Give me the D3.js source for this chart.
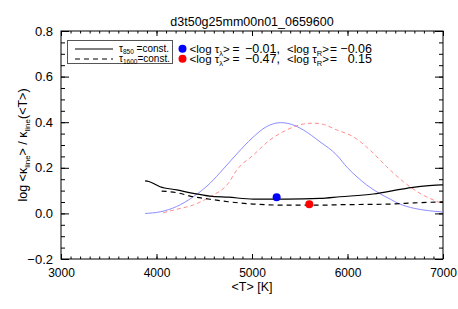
<!DOCTYPE html>
<html>
<head>
<meta charset="utf-8">
<script src="https://cdn.jsdelivr.net/npm/d3@7"></script>
<style>
  body { margin: 0; background: #fff; }
  text { font-family: "Liberation Sans", Arial, sans-serif; fill: #000; }
</style>
</head>
<body>
<div id="container"></div>
<script>
  // values
  const xTicks = [3000, 4000, 5000, 6000, 7000];
  const yTicks = [-0.2, 0.0, 0.2, 0.4, 0.6, 0.8];
  const yTickLabels = ["\u22120.2", "0.0", "0.2", "0.4", "0.6", "0.8"];

  // tau_850 = const. (solid black)
  const solidT = [3880, 3920, 4037, 4211, 4385, 4560, 4752, 5014, 5363, 5712, 5921, 6270, 6620, 6987, 7000];
  const solidV = [0.143, 0.140, 0.117, 0.103, 0.088, 0.076, 0.071, 0.063, 0.063, 0.066, 0.073, 0.085, 0.110, 0.125, 0.125];

  // tau_1600 = const. (dashed black)
  const dashT = [4054, 4211, 4385, 4560, 4752, 5014, 5363, 5712, 5921, 6445, 6700, 7000];
  const dashV = [0.098, 0.091, 0.073, 0.062, 0.051, 0.041, 0.036, 0.036, 0.038, 0.041, 0.046, 0.051];

  // contribution curves (blue solid, red dashed)
  const blueT = [3880, 4040, 4210, 4385, 4560, 4700, 4850, 5000, 5150, 5300, 5450, 5537, 5712, 5887, 6000, 6100, 6200, 6333, 6450, 6532, 6700, 6850, 7000];
  const blueV = [0.000, 0.007, 0.030, 0.073, 0.132, 0.195, 0.265, 0.330, 0.380, 0.398, 0.385, 0.366, 0.314, 0.256, 0.200, 0.160, 0.125, 0.088, 0.062, 0.044, 0.022, 0.012, 0.006];
  const redT = [4071, 4211, 4385, 4560, 4752, 4840, 5014, 5188, 5363, 5537, 5642, 5750, 5887, 6061, 6235, 6410, 6585, 6759, 7000];
  const redV = [0.003, 0.018, 0.037, 0.073, 0.132, 0.190, 0.256, 0.322, 0.366, 0.392, 0.396, 0.390, 0.366, 0.336, 0.278, 0.205, 0.139, 0.088, 0.042];

  // mean points
  const dotT = [5258, 5600];
  const dotV = [0.071, 0.040];
  const dotColors = ["#0000ff", "#ff0000"];
  const tauLambda = ["\u22120.01,", "\u22120.47,"];
  const tauR = ["\u22120.06", "0.15"];

  const width = 458, height = 309;
  const margin = {top: 31, right: 15, bottom: 50, left: 61};

  const svg = d3.create("svg")
      .attr("width", width)
      .attr("height", height);

  const x = d3.scaleLinear().domain([3000, 7000]).range([margin.left, width - margin.right]);
  const y = d3.scaleLinear().domain([-0.2, 0.8]).range([height - margin.bottom, margin.top]);

  const x0 = margin.left, x1 = width - margin.right;
  const y0 = height - margin.bottom, y1 = margin.top;

  // minor ticks
  const xMinor = d3.range(3000, 7001, 100);
  const yMinor = d3.range(-0.2, 0.8001, 0.05);

  function axisStyle(g) {
    g.select(".domain").remove();
    g.selectAll("line").attr("stroke", "#000").attr("stroke-width", 1);
  }

  // bottom
  svg.append("g").attr("transform", `translate(0,${y0})`)
      .call(d3.axisBottom(x).tickValues(xMinor).tickSize(-2.5).tickFormat(""))
      .call(axisStyle);
  svg.append("g").attr("transform", `translate(0,${y0})`)
      .call(d3.axisBottom(x).tickValues(xTicks).tickSizeInner(-5).tickSizeOuter(0).tickPadding(9).tickFormat(d3.format("d")))
      .call(axisStyle)
      .call(g => g.selectAll("text").attr("font-size", 12).attr("font-family", "Liberation Sans, Arial, sans-serif"));
  // top
  svg.append("g").attr("transform", `translate(0,${y1})`)
      .call(d3.axisTop(x).tickValues(xMinor).tickSize(-2.5).tickFormat(""))
      .call(axisStyle);
  svg.append("g").attr("transform", `translate(0,${y1})`)
      .call(d3.axisTop(x).tickValues(xTicks).tickSize(-5).tickFormat(""))
      .call(axisStyle);
  // left
  svg.append("g").attr("transform", `translate(${x0},0)`)
      .call(d3.axisLeft(y).tickValues(yMinor).tickSize(-4).tickFormat(""))
      .call(axisStyle);
  svg.append("g").attr("transform", `translate(${x0},0)`)
      .call(d3.axisLeft(y).tickValues(yTicks).tickSizeInner(-8).tickSizeOuter(0).tickPadding(8)
        .tickFormat((d, i) => yTickLabels[i]))
      .call(axisStyle)
      .call(g => g.selectAll("text").attr("font-size", 13).attr("font-family", "Liberation Sans, Arial, sans-serif"));
  // right
  svg.append("g").attr("transform", `translate(${x1},0)`)
      .call(d3.axisRight(y).tickValues(yMinor).tickSize(-4).tickFormat(""))
      .call(axisStyle);
  svg.append("g").attr("transform", `translate(${x1},0)`)
      .call(d3.axisRight(y).tickValues(yTicks).tickSize(-8).tickFormat(""))
      .call(axisStyle);

  // frame
  svg.append("rect")
      .attr("x", x0).attr("y", y1)
      .attr("width", x1 - x0).attr("height", y0 - y1)
      .attr("fill", "none").attr("stroke", "#000").attr("stroke-width", 1);

  const line = d3.line().curve(d3.curveMonotoneX).x(d => x(d[0])).y(d => y(d[1]));
  const plot = svg.append("g");

  plot.append("path").datum(d3.zip(blueT, blueV))
      .attr("d", line).attr("fill", "none")
      .attr("stroke", "#7f7fff").attr("stroke-width", 0.9);
  plot.append("path").datum(d3.zip(redT, redV))
      .attr("d", line).attr("fill", "none")
      .attr("stroke", "#ff8080").attr("stroke-width", 0.9)
      .attr("stroke-dasharray", "4,3");
  plot.append("path").datum(d3.zip(solidT, solidV))
      .attr("d", line).attr("fill", "none")
      .attr("stroke", "#000").attr("stroke-width", 1.2);
  plot.append("path").datum(d3.zip(dashT, dashV))
      .attr("d", line).attr("fill", "none")
      .attr("stroke", "#000").attr("stroke-width", 1.2)
      .attr("stroke-dasharray", "5,4");

  plot.selectAll("circle").data(d3.zip(dotT, dotV, dotColors)).join("circle")
      .attr("cx", d => x(d[0])).attr("cy", d => y(d[1]))
      .attr("r", 4).attr("fill", d => d[2]);

  // title and axis labels
  svg.append("text")
      .attr("x", (x0 + x1) / 2).attr("y", 26)
      .attr("text-anchor", "middle").attr("font-size", 12.5)
      .text("d3t50g25mm00n01_0659600");

  svg.append("text")
      .attr("x", (x0 + x1) / 2).attr("y", 291)
      .attr("text-anchor", "middle").attr("font-size", 12.5)
      .text("<T> [K]");

  const yl = svg.append("text")
      .attr("transform", `translate(27,${(y0 + y1) / 2}) rotate(-90)`)
      .attr("text-anchor", "middle").attr("font-size", 12.5);
  yl.append("tspan").text("log <\u03ba");
  yl.append("tspan").attr("dy", 3).attr("font-size", 8).text("line");
  yl.append("tspan").attr("dy", -3).text("> / \u03ba");
  yl.append("tspan").attr("dy", 3).attr("font-size", 8).text("line");
  yl.append("tspan").attr("dy", -3).text("(<T>)");

  // legend box (line styles)
  const leg = svg.append("g");
  leg.append("rect")
      .attr("x", 67.5).attr("y", 40.5).attr("width", 105).attr("height", 23)
      .attr("fill", "#fff").attr("stroke", "#555").attr("stroke-width", 1);
  leg.append("line").attr("x1", 75).attr("x2", 113).attr("y1", 49).attr("y2", 49)
      .attr("stroke", "#000").attr("stroke-width", 1.2);
  leg.append("line").attr("x1", 75).attr("x2", 113).attr("y1", 59).attr("y2", 59)
      .attr("stroke", "#000").attr("stroke-width", 1.2).attr("stroke-dasharray", "5,4");
  const l1 = leg.append("text").attr("x", 119).attr("y", 51.5).attr("font-size", 10);
  l1.append("tspan").text("\u03c4");
  l1.append("tspan").attr("dy", 2).attr("font-size", 6.5).text("850");
  l1.append("tspan").attr("dy", -2).text(" =const.");
  const l2 = leg.append("text").attr("x", 119).attr("y", 61.5).attr("font-size", 10);
  l2.append("tspan").text("\u03c4");
  l2.append("tspan").attr("dy", 2).attr("font-size", 6.5).text("1600");
  l2.append("tspan").attr("dy", -2).text("=const.");

  // legend for mean points
  function meanLabel(xs, yb, sub, val, xEnd) {
    const t = svg.append("text").attr("x", xs).attr("y", yb).attr("font-size", 11.5);
    t.append("tspan").text("<log \u03c4");
    t.append("tspan").attr("dy", 2.5).attr("font-size", 7.5).text(sub);
    t.append("tspan").attr("dy", -2.5).text(">");
    svg.append("text").attr("x", xs + 43).attr("y", yb).attr("font-size", 12).text("=");
    svg.append("text").attr("x", xEnd).attr("y", yb).attr("font-size", 12.5)
        .attr("text-anchor", "end").text(val);
  }
  [0, 1].forEach(i => {
    const yy = 48.7 + i * 10;
    svg.append("circle").attr("cx", 182.5).attr("cy", yy).attr("r", 4).attr("fill", dotColors[i]);
    meanLabel(189.5, yy + 4.3, "\u03bb", tauLambda[i], 280);
    meanLabel(287, yy + 4.3, "R", tauR[i], 372);
  });

  container.append(svg.node());
</script>
</body>
</html>
